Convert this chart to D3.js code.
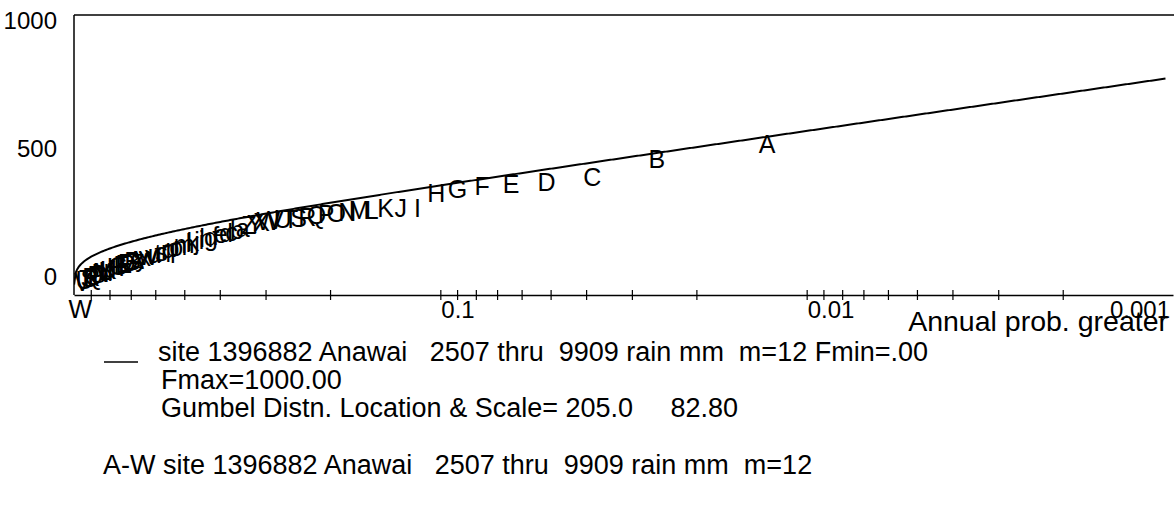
<!DOCTYPE html>
<html>
<head>
<meta charset="utf-8">
<script src="https://cdn.jsdelivr.net/npm/d3@7/dist/d3.min.js"></script>
<style>
  body { margin: 0; background: #fff; }
  svg text { font-family: "Liberation Sans", Arial, sans-serif; fill: #000; white-space: pre; }
</style>
</head>
<body>
<svg id="chart" width="1174" height="525"></svg>
<script>
// Annual maxima (rain mm), ranked largest first, one plotting letter each.
const symbols = ("ABCDEFGHIJKLMNOPQRSTUVWXYZ" + "abcdefghijklmnopqrstuvwxyz" + "ABCDEFGHIJKLMNOPQRSTUVW").split("");
const rainMm = [
  539, 486, 421, 405, 398, 389, 380, 366, 312, 311, 309, 304, 302,
  298, 293, 289, 286, 280, 275, 271, 270, 268, 264, 261, 255, 250,
  238, 231, 226, 222, 219, 212, 208, 203, 198, 194, 190, 186, 181,
  176, 172, 167, 163, 160, 155, 151, 148, 144, 140, 137, 133, 130,
  126, 123, 119, 115, 112, 108, 105, 101, 98, 94, 90, 87, 83, 80,
  76, 72, 69, 65, 61, 57, 53, 47, -50
];
const nYears = 77;

// fitted Gumbel
const gumbelLoc = 205.0;
const gumbelScale = 82.8;

const probTicks = [0.9, 0.8, 0.7, 0.6, 0.5, 0.4, 0.3, 0.2, 0.1,
  0.09, 0.08, 0.07, 0.06, 0.05, 0.04, 0.03, 0.02, 0.01,
  0.009, 0.008, 0.007, 0.006, 0.005, 0.004, 0.003, 0.002];
const probLabels = [0.1, 0.01, 0.001];
const rainLabels = [0, 500, 1000];

// text, left x, baseline y
const legendLines = [
  ["site 1396882 Anawai   2507 thru  9909 rain mm  m=12 Fmin=.00", 158, 361],
  ["Fmax=1000.00", 161, 389],
  ["Gumbel Distn. Location & Scale= 205.0     82.80", 161, 417],
  ["A-W site 1396882 Anawai   2507 thru  9909 rain mm  m=12", 103, 474]
];

const svg = d3.select("#chart");

const plotL = 74, plotR = 1173, plotT = 15, plotB = 295;

// probability paper: distance is -ln(p)
const x = d3.scaleLog().domain([1, 0.001]).range([plotL, plotR]);
const y = d3.scaleLinear().domain([0, 1000]).range([plotB, plotT]);
// the old plot put the value labels a little off their ticks
const yLabel = d3.scaleLinear().domain([0, 1000]).range([276, 20]);

svg.append("defs").append("clipPath").attr("id", "plotClip")
  .append("rect")
  .attr("x", plotL).attr("y", plotT)
  .attr("width", plotR - plotL).attr("height", plotB - plotT + 4);

// frame: top and left lines
svg.append("line")
  .attr("x1", plotL).attr("x2", 1174).attr("y1", plotT).attr("y2", plotT)
  .attr("stroke", "#000").attr("stroke-width", 1.5);
svg.append("line")
  .attr("x1", plotL).attr("x2", plotL).attr("y1", plotT).attr("y2", plotB)
  .attr("stroke", "#000").attr("stroke-width", 1.5);

// x axis
const xAxis = svg.append("g")
  .attr("transform", `translate(0,${plotB})`)
  .call(d3.axisBottom(x).tickValues(probTicks).tickSize(5).tickSizeOuter(0).tickFormat(""));
xAxis.select(".domain").attr("stroke-width", 1.6);
xAxis.selectAll(".tick line").attr("y1", -5).attr("stroke-width", 1.2);

svg.selectAll(".plabel")
  .data(probLabels)
  .join("text")
  .attr("class", "plabel")
  .attr("x", d => d === 0.001 ? 1170 : x(d) + 1)
  .attr("y", 318)
  .attr("text-anchor", d => d === 0.001 ? "end" : "start")
  .style("font-size", "24px")
  .text(d => String(d));

svg.selectAll(".ylabel")
  .data(rainLabels)
  .join("text")
  .attr("class", "ylabel")
  .attr("x", 57)
  .attr("y", d => yLabel(d))
  .attr("dy", "0.36em")
  .attr("text-anchor", "end")
  .style("font-size", "24px")
  .text(d => d);

svg.append("text")
  .attr("x", 1168).attr("y", 331)
  .attr("text-anchor", "end")
  .style("font-size", "28.5px")
  .text("Annual prob. greater");

// fitted curve
const curvePts = d3.range(0.0005, 6.87, 0.01).map(t => {
  const p = Math.exp(-t);
  return [p, gumbelLoc - gumbelScale * Math.log(-Math.log(1 - p))];
});
svg.append("path")
  .datum(curvePts)
  .attr("clip-path", "url(#plotClip)")
  .attr("fill", "none")
  .attr("stroke", "#000")
  .attr("stroke-width", 2)
  .attr("d", d3.line().x(d => x(d[0])).y(d => y(d[1])));

// plotted letters
svg.selectAll(".pt")
  .data(rainMm)
  .join("text")
  .attr("class", "pt")
  .attr("x", (d, i) => x((i + 1) / (nYears + 1)))
  .attr("y", d => y(d))
  .attr("dy", "0.36em")
  .attr("text-anchor", "middle")
  .style("font-size", "25px")
  .text((d, i) => symbols[i]);

// legend
svg.append("line")
  .attr("x1", 104).attr("x2", 138).attr("y1", 362).attr("y2", 362)
  .attr("stroke", "#000").attr("stroke-width", 1.5);
svg.selectAll(".leg")
  .data(legendLines)
  .join("text")
  .attr("class", "leg")
  .attr("x", d => d[1])
  .attr("y", d => d[2])
  .style("font-size", "27px")
  .text(d => d[0]);
</script>
</body>
</html>
